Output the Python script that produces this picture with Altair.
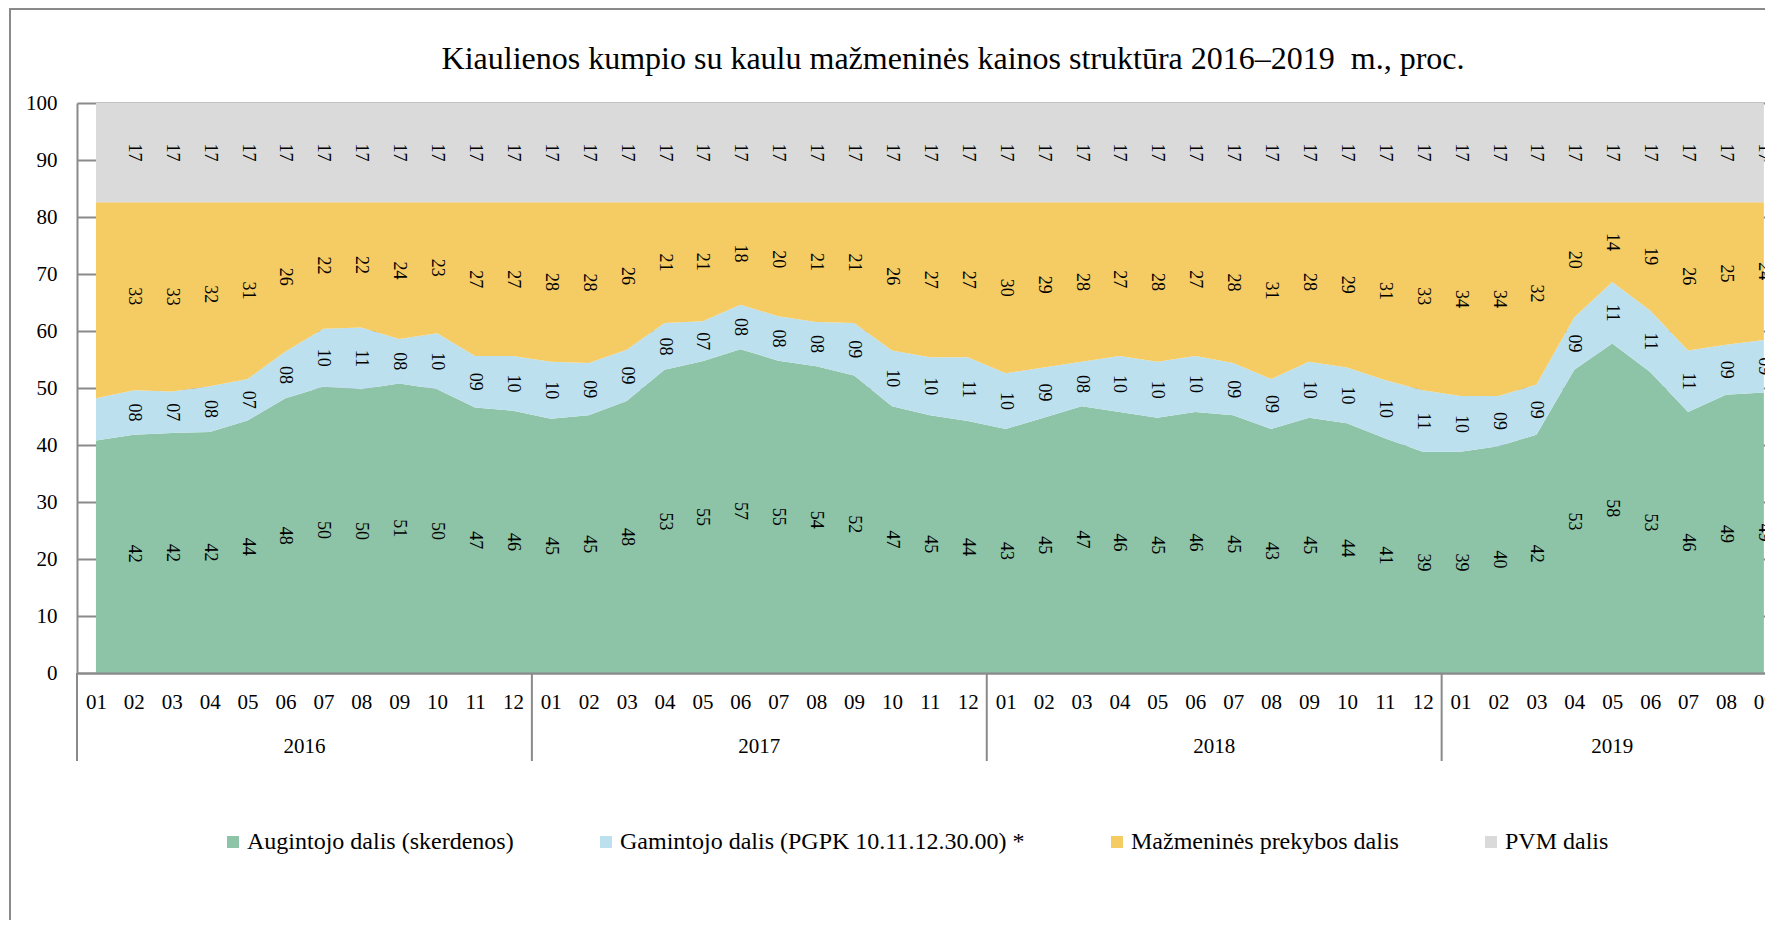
import altair as alt
import pandas as pd

# ---- data ----
years_of_month = (["2016"] * 12) + (["2017"] * 12) + (["2018"] * 12) + (["2019"] * 9)
months = ["01", "02", "03", "04", "05", "06", "07", "08", "09", "10", "11", "12",
          "01", "02", "03", "04", "05", "06", "07", "08", "09", "10", "11", "12",
          "01", "02", "03", "04", "05", "06", "07", "08", "09", "10", "11", "12",
          "01", "02", "03", "04", "05", "06", "07", "08", "09"]

augintojo = [40.8, 41.8, 42.1, 42.3, 44.3, 48.2, 50.2, 49.8, 50.8, 49.8, 46.6, 46.0,
             44.6, 45.2, 47.7, 53.2, 54.7, 56.8, 54.8, 53.8, 52.2, 46.8, 45.2, 44.2,
             42.8, 44.8, 46.8, 45.8, 44.8, 45.8, 45.2, 42.8, 44.8, 43.8, 41.2, 38.8,
             38.8, 39.8, 41.8, 53.2, 57.8, 52.8, 45.8, 48.8, 49.2]
gamintojo = [7.4, 7.8, 7.3, 8.0, 7.3, 8.2, 10.2, 10.8, 7.8, 9.8, 9.0, 9.6,
             10.0, 9.2, 9.0, 8.2, 7.0, 7.8, 7.8, 7.8, 9.2, 9.8, 10.2, 11.2,
             9.8, 8.8, 7.8, 9.8, 9.8, 9.8, 9.2, 8.8, 9.8, 9.8, 10.2, 10.8,
             9.8, 8.8, 8.8, 9.2, 10.8, 10.8, 10.8, 8.8, 9.2]
mazmenine = [34.4, 33.0, 33.2, 32.3, 31.0, 26.2, 22.2, 22.0, 24.0, 23.0, 27.0, 27.0,
             28.0, 28.2, 25.9, 21.2, 20.9, 18.0, 20.0, 21.0, 21.2, 26.0, 27.2, 27.2,
             30.0, 29.0, 28.0, 27.0, 28.0, 27.0, 28.2, 31.0, 28.0, 29.0, 31.2, 33.0,
             34.0, 34.0, 32.0, 20.2, 14.0, 19.0, 26.0, 25.0, 24.2]
pvm = [17.4, 17.4, 17.4, 17.4, 17.4, 17.4, 17.4, 17.4, 17.4, 17.4, 17.4, 17.4,
       17.4, 17.4, 17.4, 17.4, 17.4, 17.4, 17.4, 17.4, 17.4, 17.4, 17.4, 17.4,
       17.4, 17.4, 17.4, 17.4, 17.4, 17.4, 17.4, 17.4, 17.4, 17.4, 17.4, 17.4,
       17.4, 17.4, 17.4, 17.4, 17.4, 17.4, 17.4, 17.4, 17.4]

series_names = ["Augintojo dalis (skerdenos)",
                "Gamintojo dalis (PGPK 10.11.12.30.00) *",
                "Mažmeninės prekybos dalis",
                "PVM dalis"]
series_colors = ["#8dc3a7", "#bde0ef", "#f5cb64", "#dadada"]

years = ["2016", "2017", "2018", "2019"]
year_centers = [5.5, 17.5, 29.5, 40]
year_bounds = [-0.5, 11.5, 23.5, 35.5]

title_text = "Kiaulienos kumpio su kaulu mažmeninės kainos struktūra 2016–2019\u00a0 m., proc."

# ---- build tables ----
rows = []
for order, (name, vals) in enumerate(zip(series_names, [augintojo, gamintojo, mazmenine, pvm])):
    for i, v in enumerate(vals):
        rows.append({"idx": i, "value": v, "series": name, "order": order,
                     "month": months[i], "year": years_of_month[i]})
df = pd.DataFrame(rows)
df_years = pd.DataFrame({"year": years, "center": year_centers})
df_bounds = pd.DataFrame({"b": year_bounds})
df_one = pd.DataFrame({"a": [0]})

W, H = 1688, 570
FONT = "Liberation Serif"
AXIS_GREY = "#8a8a8a"

label_expr = "[" + ",".join("'%s'" % m for m in months) + "][datum.value]"

xscale = alt.Scale(domain=[-0.5, 44.03], nice=False, zero=False)
yscale = alt.Scale(domain=[0, 100], nice=False)

x_axis = alt.Axis(values=list(range(45)), labelExpr=label_expr, title=None,
                  grid=False, ticks=False, labelFont=FONT, labelFontSize=21,
                  labelColor="#000000", labelPadding=18, domainColor=AXIS_GREY,
                  domainWidth=2, labelAngle=0, labelOverlap=False,
                  labelBound=False, labelFlush=False, zindex=1)
y_axis = alt.Axis(values=list(range(0, 101, 10)), title=None, ticks=False,
                  labelFont=FONT, labelFontSize=21, labelColor="#000000",
                  labelPadding=20, domainColor=AXIS_GREY, domainWidth=2,
                  labelOverlap=False, grid=True, gridColor=AXIS_GREY, gridWidth=2)

base = alt.Chart(df).transform_stack(
    stack="value", groupby=["idx"], as_=["y0", "y1"],
    sort=[alt.SortField("order", order="ascending")]
)

areas = base.mark_area(opacity=1).encode(
    x=alt.X("idx:Q", scale=xscale, axis=x_axis),
    y=alt.Y("y1:Q", scale=yscale, axis=y_axis),
    y2="y0:Q",
    color=alt.Color("series:N",
                    scale=alt.Scale(domain=series_names, range=series_colors),
                    legend=alt.Legend(title=None, orient="none", direction="horizontal",
                                      legendX=144, legendY=727, symbolType="square",
                                      symbolSize=144, symbolStrokeWidth=0,
                                      labelFont=FONT, labelFontSize=24, labelColor="#000000",
                                      labelOffset=2, columnPadding=80, padding=0,
                                      labelLimit=600)),
    order=alt.Order("order:Q"),
)

labels = base.transform_filter("datum.idx > 0").transform_calculate(
    mid="(datum.y0 + datum.y1) / 2"
).mark_text(angle=90, font=FONT, fontSize=18, color="#000000",
            align="center", baseline="middle").encode(
    x=alt.X("idx:Q", scale=xscale, axis=x_axis),
    y=alt.Y("mid:Q", scale=yscale, axis=y_axis),
    text=alt.Text("value:Q", format="02d"),
)

seps = alt.Chart(df_bounds).mark_rule(color=AXIS_GREY, strokeWidth=2).encode(
    x=alt.X("b:Q", scale=xscale, axis=x_axis),
    y=alt.value(H), y2=alt.value(658),
)

year_text = alt.Chart(df_years).mark_text(font=FONT, fontSize=21, color="#000000",
                                          baseline="middle").encode(
    x=alt.X("center:Q", scale=xscale, axis=x_axis),
    y=alt.value(644),
    text="year:N",
)

frame = alt.Chart(df_one).mark_rect(fill="white", fillOpacity=0, stroke=AXIS_GREY,
                                    strokeWidth=2).encode(
    x=alt.value(-67), y=alt.value(-94), x2=alt.value(2000), y2=alt.value(2000),
)

chart = alt.layer(frame, areas, labels, seps, year_text).properties(
    width=W, height=H,
    title=alt.TitleParams(title_text, font=FONT, fontSize=32, fontWeight="normal",
                          color="#000000", anchor="middle", dx=32, offset=-93,
                          baseline="alphabetic"),
    autosize=alt.AutoSizeParams(type="none"),
    padding={"left": 69, "top": 95, "right": 0, "bottom": 247},
).configure_view(stroke=None).configure_axisX(labelOverlap=False)

chart.save("out.html", embed_options={"renderer": "svg", "actions": False})
